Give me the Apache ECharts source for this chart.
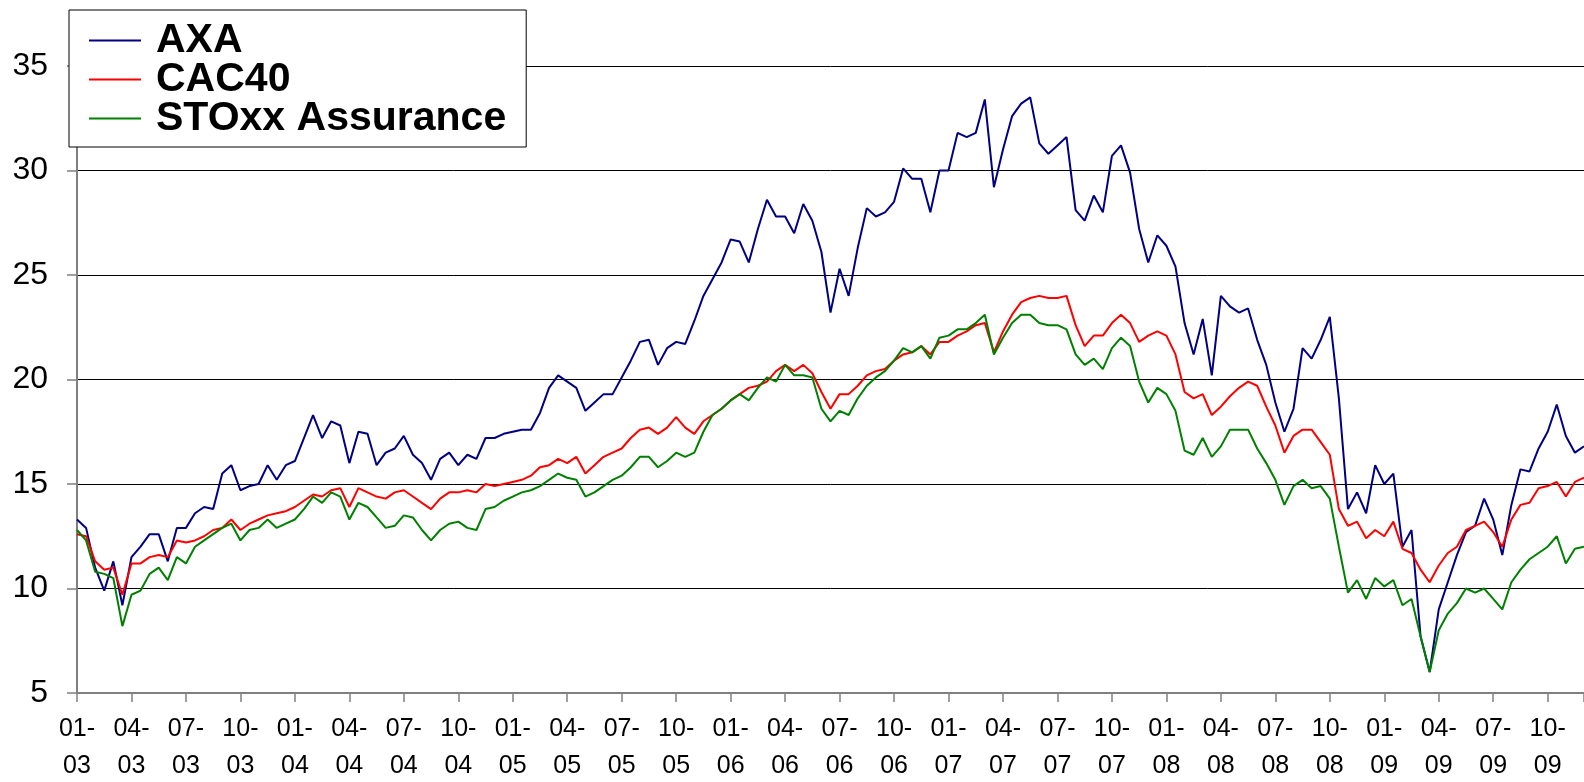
<!DOCTYPE html>
<html>
<head>
<meta charset="utf-8">
<script src="https://cdn.jsdelivr.net/npm/echarts@6/dist/echarts.min.js"></script>
<style>
  html, body { margin: 0; padding: 0; background: #fff; }
  #chart { width: 1584px; height: 782px; }
</style>
</head>
<body>
<div id="chart"></div>
<script>
// half-month samples, Jan 2003 .. Dec 2009
const axa = [
  13.3, 12.9, 11.0, 9.9, 11.3, 9.2, 11.5, 12.0, 12.6, 12.6,
  11.3, 12.9, 12.9, 13.6, 13.9, 13.8, 15.5, 15.9, 14.7, 14.9,
  15.0, 15.9, 15.2, 15.9, 16.1, 17.2, 18.3, 17.2, 18.0, 17.8,
  16.0, 17.5, 17.4, 15.9, 16.5, 16.7, 17.3, 16.4, 16.0, 15.2,
  16.2, 16.5, 15.9, 16.4, 16.2, 17.2, 17.2, 17.4, 17.5, 17.6,
  17.6, 18.4, 19.6, 20.2, 19.9, 19.6, 18.5, 18.9, 19.3, 19.3,
  20.1, 20.9, 21.8, 21.9, 20.7, 21.5, 21.8, 21.7, 22.8, 24.0,
  24.8, 25.6, 26.7, 26.6, 25.6, 27.2, 28.6, 27.8, 27.8, 27.0,
  28.4, 27.6, 26.1, 23.2, 25.3, 24.0, 26.3, 28.2, 27.8, 28.0,
  28.5, 30.1, 29.6, 29.6, 28.0, 30.0, 30.0, 31.8, 31.6, 31.8,
  33.4, 29.2, 31.0, 32.6, 33.2, 33.5, 31.3, 30.8, 31.2, 31.6,
  28.1, 27.6, 28.8, 28.0, 30.7, 31.2, 29.9, 27.2, 25.6, 26.9,
  26.4, 25.4, 22.7, 21.2, 22.9, 20.2, 24.0, 23.5, 23.2, 23.4,
  21.9, 20.7, 18.9, 17.5, 18.6, 21.5, 21.0, 21.9, 23.0, 19.1,
  13.8, 14.6, 13.6, 15.9, 15.0, 15.5, 12.0, 12.8, 7.7, 6.0,
  9.0, 10.3, 11.6, 12.7, 13.0, 14.3, 13.3, 11.6, 14.0, 15.7,
  15.6, 16.7, 17.5, 18.8, 17.3, 16.5, 16.8
];
const cac40 = [
  12.6, 12.5, 11.3, 10.9, 11.0, 9.7, 11.2, 11.2, 11.5, 11.6,
  11.5, 12.3, 12.2, 12.3, 12.5, 12.8, 12.9, 13.3, 12.8, 13.1,
  13.3, 13.5, 13.6, 13.7, 13.9, 14.2, 14.5, 14.4, 14.7, 14.8,
  13.9, 14.8, 14.6, 14.4, 14.3, 14.6, 14.7, 14.4, 14.1, 13.8,
  14.3, 14.6, 14.6, 14.7, 14.6, 15.0, 14.9, 15.0, 15.1, 15.2,
  15.4, 15.8, 15.9, 16.2, 16.0, 16.3, 15.5, 15.9, 16.3, 16.5,
  16.7, 17.2, 17.6, 17.7, 17.4, 17.7, 18.2, 17.7, 17.4, 18.0,
  18.3, 18.6, 19.0, 19.3, 19.6, 19.7, 19.9, 20.4, 20.7, 20.4,
  20.7, 20.3, 19.4, 18.6, 19.3, 19.3, 19.7, 20.2, 20.4, 20.5,
  20.9, 21.2, 21.3, 21.6, 21.2, 21.8, 21.8, 22.1, 22.3, 22.6,
  22.7, 21.3, 22.3, 23.1, 23.7, 23.9, 24.0, 23.9, 23.9, 24.0,
  22.6, 21.6, 22.1, 22.1, 22.7, 23.1, 22.7, 21.8, 22.1, 22.3,
  22.1, 21.2, 19.4, 19.1, 19.3, 18.3, 18.7, 19.2, 19.6, 19.9,
  19.7, 18.7, 17.8, 16.5, 17.3, 17.6, 17.6, 17.0, 16.4, 13.8,
  13.0, 13.2, 12.4, 12.8, 12.5, 13.2, 11.9, 11.7, 10.9, 10.3,
  11.1, 11.7, 12.0, 12.8, 13.0, 13.2, 12.7, 12.0, 13.3, 14.0,
  14.1, 14.8, 14.9, 15.1, 14.4, 15.1, 15.3
];
const stoxx = [
  12.8, 12.3, 10.8, 10.7, 10.5, 8.2, 9.7, 9.9, 10.7, 11.0,
  10.4, 11.5, 11.2, 12.0, 12.3, 12.6, 12.9, 13.1, 12.3, 12.8,
  12.9, 13.3, 12.9, 13.1, 13.3, 13.8, 14.4, 14.1, 14.6, 14.4,
  13.3, 14.1, 13.9, 13.4, 12.9, 13.0, 13.5, 13.4, 12.8, 12.3,
  12.8, 13.1, 13.2, 12.9, 12.8, 13.8, 13.9, 14.2, 14.4, 14.6,
  14.7, 14.9, 15.2, 15.5, 15.3, 15.2, 14.4, 14.6, 14.9, 15.2,
  15.4, 15.8, 16.3, 16.3, 15.8, 16.1, 16.5, 16.3, 16.5, 17.5,
  18.3, 18.6, 19.0, 19.3, 19.0, 19.6, 20.1, 19.9, 20.7, 20.2,
  20.2, 20.1, 18.6, 18.0, 18.5, 18.3, 19.1, 19.7, 20.1, 20.4,
  20.9, 21.5, 21.3, 21.6, 21.0, 22.0, 22.1, 22.4, 22.4, 22.7,
  23.1, 21.2, 22.0, 22.7, 23.1, 23.1, 22.7, 22.6, 22.6, 22.4,
  21.2, 20.7, 21.0, 20.5, 21.5, 22.0, 21.6, 19.9, 18.9, 19.6,
  19.3, 18.5, 16.6, 16.4, 17.2, 16.3, 16.8, 17.6, 17.6, 17.6,
  16.7, 16.0, 15.2, 14.0, 14.9, 15.2, 14.8, 14.9, 14.3, 12.0,
  9.8, 10.4, 9.5, 10.5, 10.1, 10.4, 9.2, 9.5, 7.7, 6.0,
  8.0, 8.8, 9.3, 10.0, 9.8, 10.0, 9.5, 9.0, 10.3, 10.9,
  11.4, 11.7, 12.0, 12.5, 11.2, 11.9, 12.0
];

// one label every quarter
const tickLabels = [
  '01-\n03', '04-\n03', '07-\n03', '10-\n03',
  '01-\n04', '04-\n04', '07-\n04', '10-\n04',
  '01-\n05', '04-\n05', '07-\n05', '10-\n05',
  '01-\n06', '04-\n06', '07-\n06', '10-\n06',
  '01-\n07', '04-\n07', '07-\n07', '10-\n07',
  '01-\n08', '04-\n08', '07-\n08', '10-\n08',
  '01-\n09', '04-\n09', '07-\n09', '10-\n09'
];

// month index of each sample (two per month)
const months = axa.map((_, i) => i / 2);
const pairs = arr => arr.map((v, i) => [months[i], v]);

const font = 'Arial, "Liberation Sans", sans-serif';
const chart = echarts.init(document.getElementById('chart'));

const option = {
  animation: false,
  backgroundColor: '#fff',
  grid: {
    left: 77, right: 0, top: 66, bottom: 89,
    containLabel: false,
    outerBoundsMode: 'none'
  },
  legend: {
    left: 69,
    top: 10,
    orient: 'vertical',
    icon: 'rect',
    itemWidth: 52,
    itemHeight: 2,
    itemGap: -2,
    padding: [10, 20, 8, 20],
    backgroundColor: '#fff',
    borderColor: '#000',
    borderWidth: 1,
    textStyle: {
      fontFamily: font,
      fontSize: 41,
      fontWeight: 'bold',
      color: '#000',
      padding: [0, 0, 0, 10]
    },
    data: ['AXA', 'CAC40', 'STOxx Assurance']
  },
  xAxis: {
    type: 'value',
    min: 0,
    max: 83,
    interval: 3,
    axisLine: { lineStyle: { color: '#808080', width: 2 } },
    axisTick: { length: 9, lineStyle: { color: '#808080', width: 1.5 } },
    splitLine: { show: false },
    axisLabel: {
      margin: 18,
      fontFamily: font,
      fontSize: 25,
      lineHeight: 37,
      color: '#000',
      formatter: v => (v % 3 === 0 && tickLabels[v / 3]) || ''
    }
  },
  yAxis: {
    type: 'value',
    min: 5,
    max: 35,
    interval: 5,
    axisLine: { show: true, lineStyle: { color: '#808080', width: 2 } },
    axisTick: { show: true, length: 10, lineStyle: { color: '#808080', width: 1.5 } },
    splitLine: { lineStyle: { color: '#000', width: 1 } },
    axisLabel: {
      margin: 29,
      fontFamily: font,
      fontSize: 32,
      color: '#000'
    }
  },
  series: [
    { name: 'AXA', type: 'line', symbol: 'none', data: pairs(axa),
      lineStyle: { color: '#000080', width: 2 }, itemStyle: { color: '#000080' } },
    { name: 'CAC40', type: 'line', symbol: 'none', data: pairs(cac40),
      lineStyle: { color: '#ff0000', width: 2 }, itemStyle: { color: '#ff0000' } },
    { name: 'STOxx Assurance', type: 'line', symbol: 'none', data: pairs(stoxx),
      lineStyle: { color: '#008000', width: 2 }, itemStyle: { color: '#008000' } }
  ]
};

chart.setOption(option);
</script>
</body>
</html>
